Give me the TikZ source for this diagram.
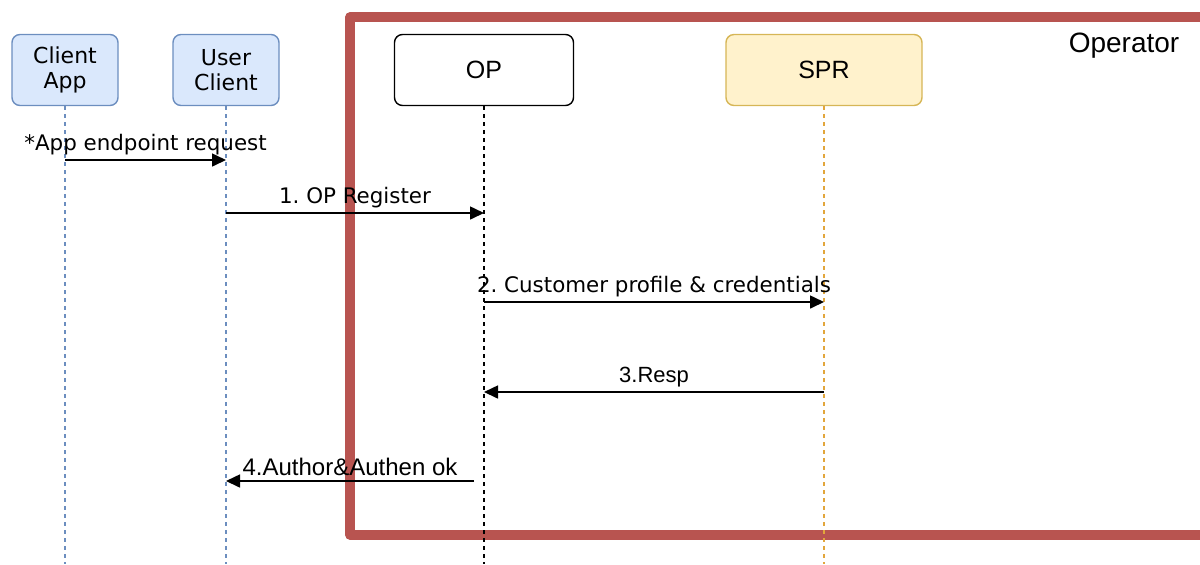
\documentclass[tikz,border=0pt]{standalone}
\usepackage{fontspec}
\setmainfont{DejaVu Sans}
\newfontfamily\arialfont{Liberation Sans}
\usetikzlibrary{arrows.meta}
\definecolor{bluefill}{HTML}{DAE8FC}
\definecolor{blueline}{HTML}{6C8EBF}
\definecolor{yellowfill}{HTML}{FFF2CC}
\definecolor{yellowline}{HTML}{D6B656}
\definecolor{opred}{HTML}{B85450}
\frenchspacing
\begin{document}
\begin{tikzpicture}[>={Triangle[length=7pt,width=6.5pt]}, x=0.5pt, y=-0.5pt, line join=round,
    actor/.style={draw, rounded corners=4pt, line width=0.7pt, minimum height=35.5pt, align=center, font=\fontsize{11}{12.5}\selectfont},
    life/.style={dashed, dash pattern=on 2pt off 2pt, line width=0.6pt},
    msg/.style={->, line width=0.8pt},
    lbl/.style={midway, above, inner sep=2pt, font=\fontsize{10.7}{12}\selectfont}]
                \useasboundingbox (0,0) rectangle (1200,564);
                % frame
                \draw[opred, line width=4.6pt] (350,17) rectangle (1220,535);
                \node (oper) at (1124,46) {\arialfont\fontsize{14}{16}\selectfont Operator};
                % actors
                \node[actor, fill=bluefill, draw=blueline, minimum width=53pt] (ca) at (65,70) {Client\\App};
                \node[actor, fill=bluefill, draw=blueline, minimum width=53pt] (uc) at (226,70) {User\\Client};
                \node[actor, fill=white, draw=black, minimum width=89.5pt, font=\arialfont\fontsize{12.5}{14}\selectfont] (op) at (484,70) {OP};
                \node[actor, fill=yellowfill, draw=yellowline, minimum width=98pt, font=\arialfont\fontsize{12.5}{14}\selectfont] (spr) at (824,70) {SPR};
                % lifelines
                \coordinate (caend) at (65,564);
                \coordinate (ucend) at (226,564);
                \coordinate (opend) at (484,564);
                \coordinate (sprend) at (824,564);
                \draw[life, blueline] (ca) -- (caend);
                \draw[life, blueline] (uc) -- (ucend);
                \draw[life, black] (op) -- (opend);
                \draw[life, yellowline!70!orange] (spr) -- (sprend);
                % messages
                \draw[msg] (ca |- 0,160) -- (uc |- 0,160) node[lbl]{*App endpoint request};
                \draw[msg] (uc |- 0,213) -- (op |- 0,213) node[lbl]{1. OP Register};
                \draw[msg] (op |- 0,302) -- (spr |- 0,302) node[lbl]{2. Customer profile \& credentials};
                \draw[msg] (spr |- 0,392) -- (op |- 0,392) node[lbl, font=\arialfont\fontsize{11}{12}\selectfont]{3.Resp};
                \draw[msg] ([xshift=-5pt]op |- 0,481) -- (uc |- 0,481) node[lbl, font=\arialfont\fontsize{12}{13}\selectfont]{4.Author\&Authen ok};
            \end{tikzpicture}
\end{document}
